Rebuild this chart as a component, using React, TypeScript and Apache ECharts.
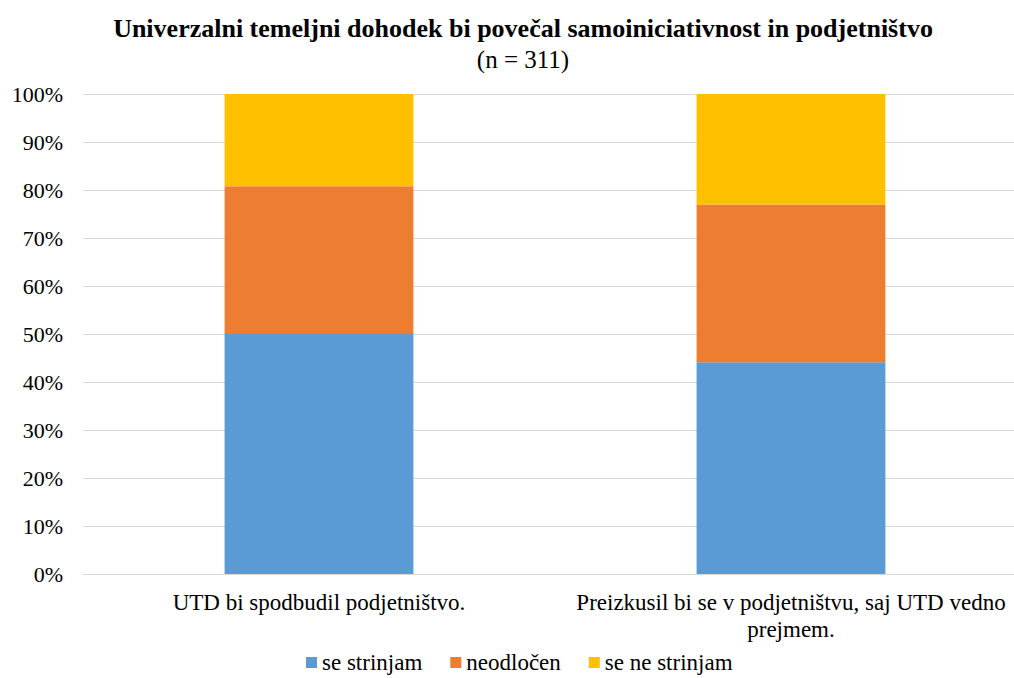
import React, { useEffect, useRef } from "react";
import * as echarts from "echarts";

const categories = [
  "UTD bi spodbudil podjetništvo.",
  "Preizkusil bi se v podjetništvu, saj UTD vedno\nprejmem.",
];
const seriesNames = ["se strinjam", "neodločen", "se ne strinjam"];
const agree = [50.0, 44.1];
const undecided = [30.8, 32.9];
const disagree = [19.2, 23.0];
const colors = ["#5B9BD5", "#ED7D31", "#FFC000"];
const yTicks = [0, 10, 20, 30, 40, 50, 60, 70, 80, 90, 100];

const FONT = "Times New Roman, Liberation Serif, DejaVu Serif, serif";

export default function App() {
  const ref = useRef<HTMLDivElement>(null);
  useEffect(() => {
    if (!ref.current) return;
    const chart = echarts.init(ref.current, undefined, { renderer: "svg" });
    const values = [agree, undecided, disagree];
    chart.setOption({
      animation: false,
      title: {
        text: "Univerzalni temeljni dohodek bi povečal samoiniciativnost in podjetništvo",
        subtext: "(n = 311)",
        left: 518,
        textAlign: "center",
        top: 10,
        itemGap: 6,
        textStyle: { fontFamily: FONT, fontSize: 26, fontWeight: "bold", color: "#000" },
        subtextStyle: { fontFamily: FONT, fontSize: 25, color: "#000" },
      },
      legend: {
        top: 651,
        left: 306,
        icon: "rect",
        itemWidth: 11,
        itemHeight: 11,
        itemGap: 28,
        padding: 0,
        textStyle: { fontFamily: FONT, fontSize: 23, color: "#000" },
        data: seriesNames,
      },
      grid: { left: 83, right: 0, top: 94, bottom: 104, containLabel: false },
      xAxis: {
        type: "category",
        data: categories,
        axisLine: { lineStyle: { color: "#D9D9D9" } },
        axisTick: { show: false },
        axisLabel: {
          fontFamily: FONT,
          fontSize: 23,
          color: "#000",
          margin: 15,
          lineHeight: 27,
          interval: 0,
        },
      },
      yAxis: {
        type: "value",
        min: 0,
        max: 100,
        interval: 10,
        axisLine: { show: false },
        axisTick: { show: false },
        splitLine: { lineStyle: { color: "#D9D9D9", width: 1 } },
        axisLabel: {
          fontFamily: FONT,
          fontSize: 22,
          color: "#000",
          margin: 20,
          formatter: (v: number) => (yTicks.includes(v) ? v + "%" : ""),
        },
      },
      series: seriesNames.map((name, i) => ({
        name,
        type: "bar",
        stack: "total",
        barWidth: "40%",
        data: values[i],
        itemStyle: { color: colors[i] },
      })),
    });
    return () => chart.dispose();
  }, []);
  return (
    <div
      style={{
        position: "fixed",
        left: 0,
        top: 0,
        width: 1014,
        height: 678,
        overflow: "hidden",
        background: "#fff",
      }}
    >
      <div ref={ref} style={{ width: 1027, height: 678 }} />
    </div>
  );
}
